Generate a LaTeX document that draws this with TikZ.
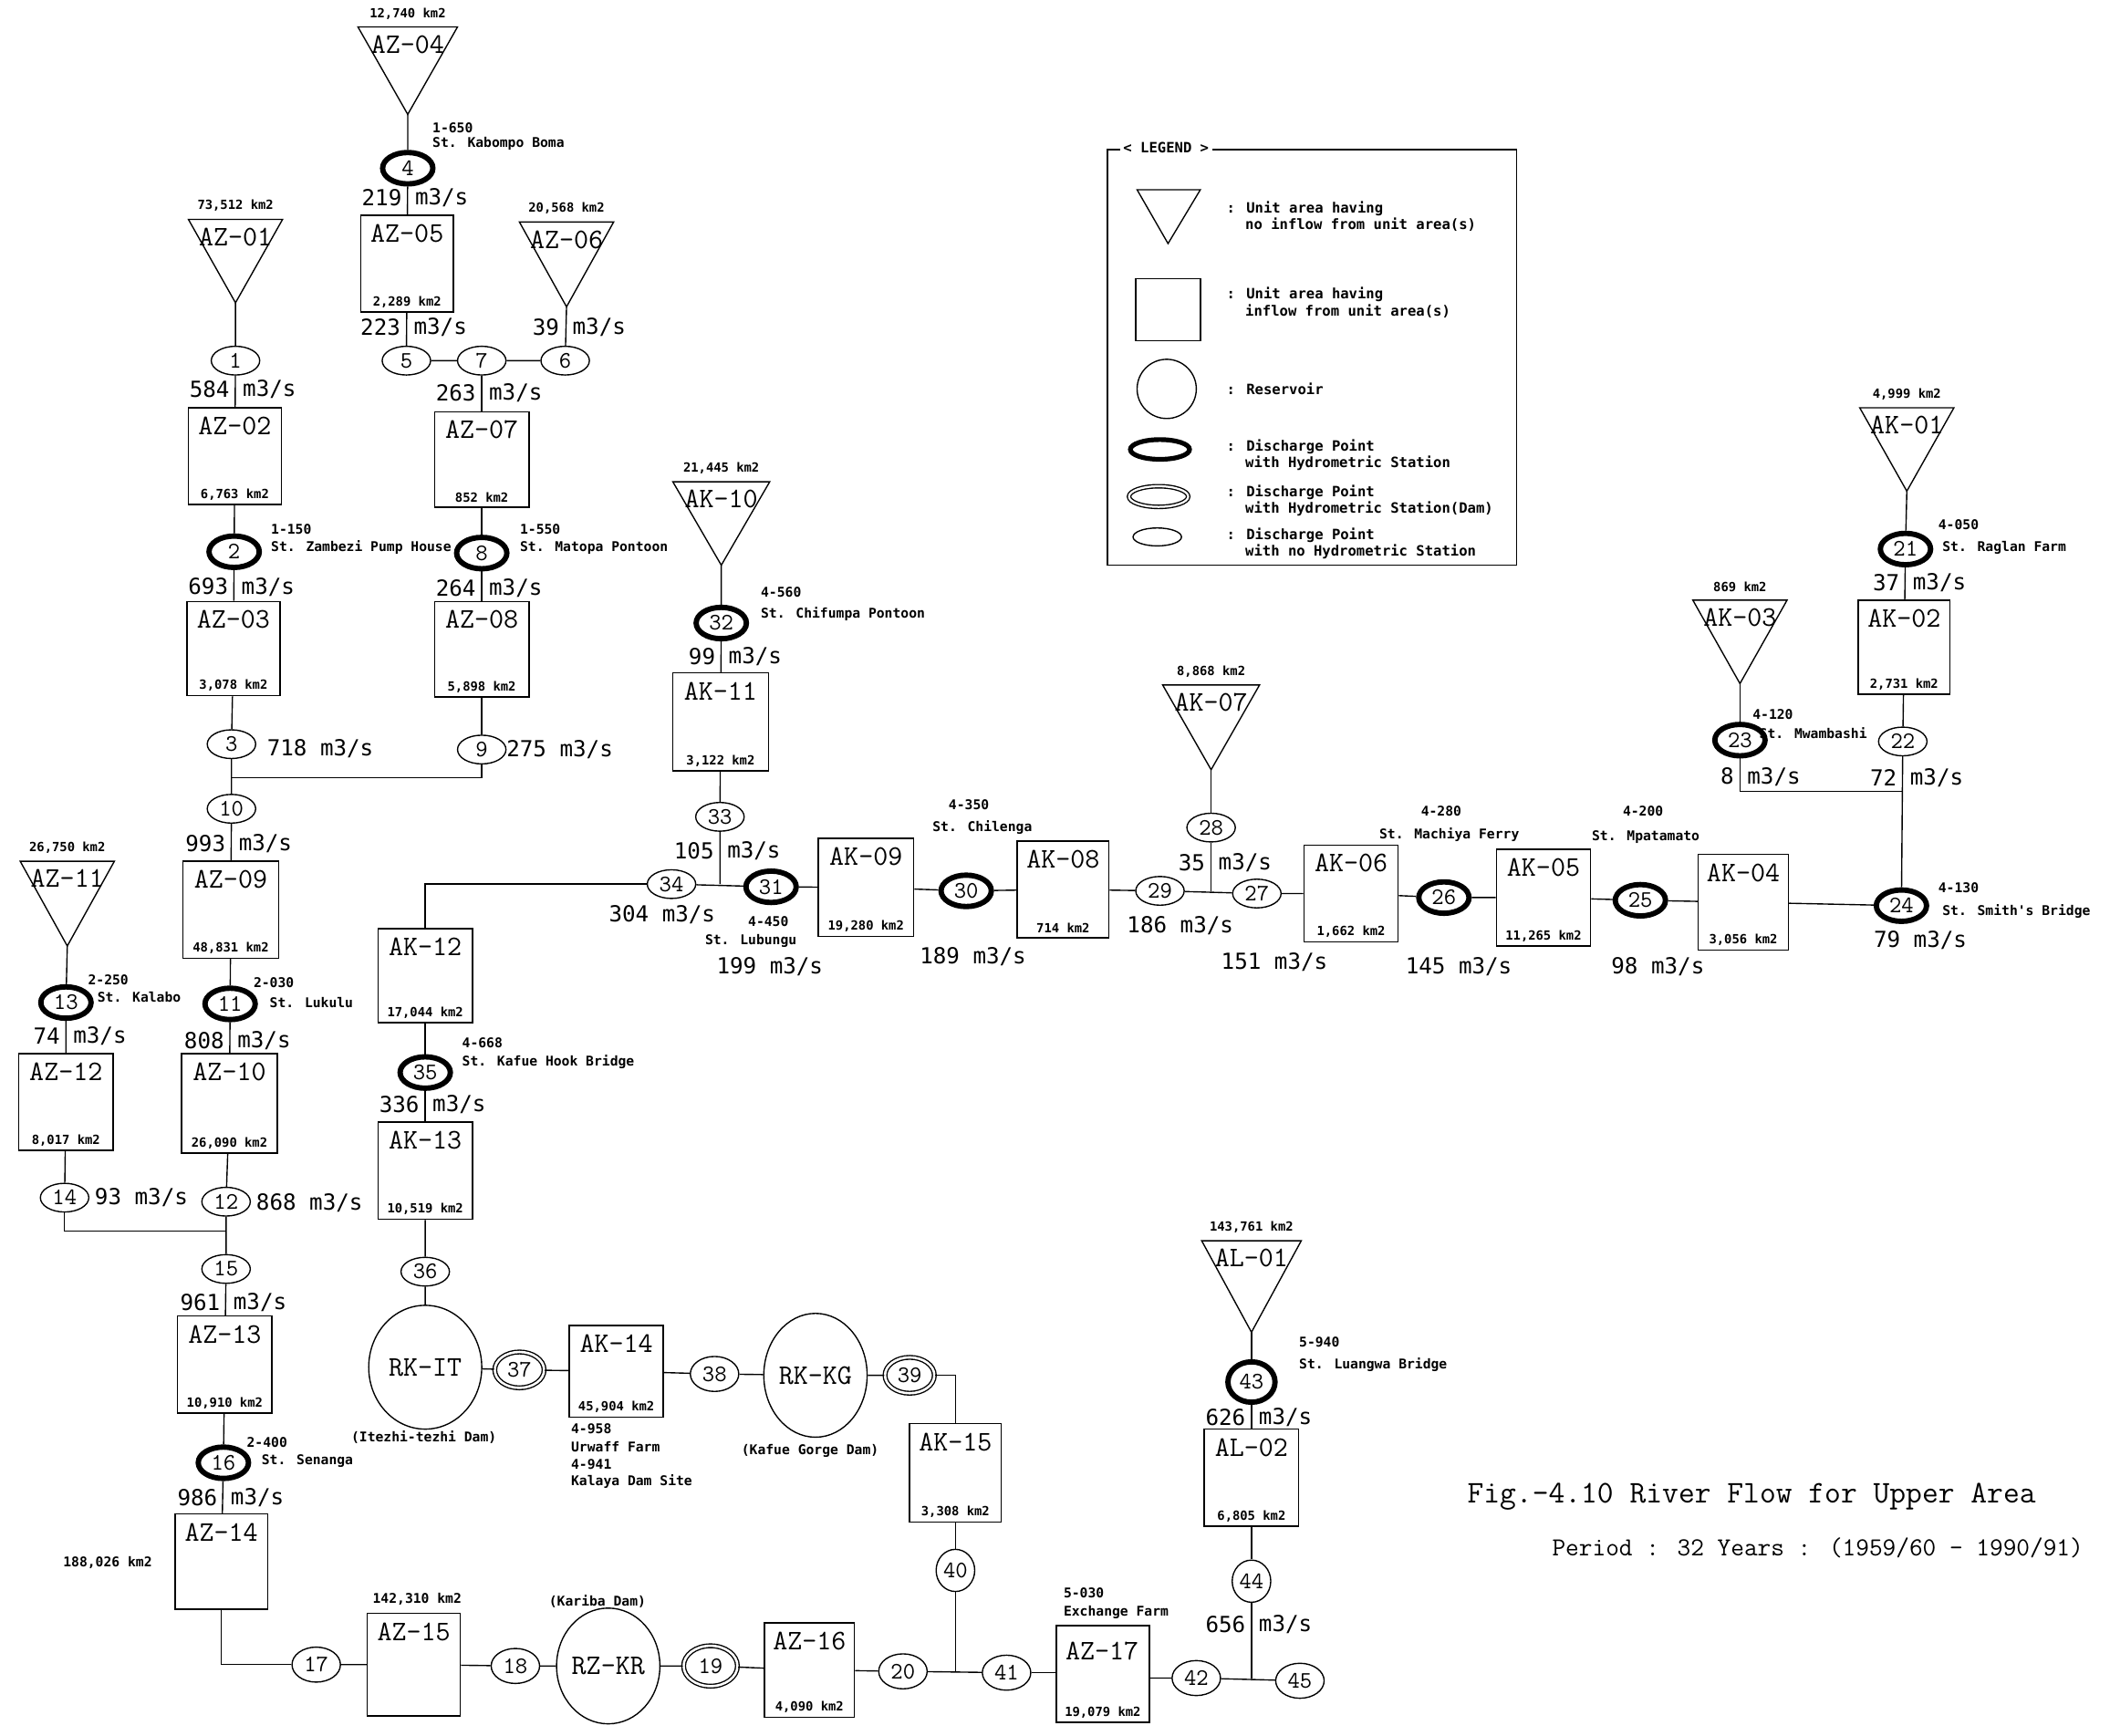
\documentclass[tikz,border=0pt]{standalone}
\usepackage{fontspec}
\usetikzlibrary{shapes.geometric,fit,calc}
\newfontfamily\flowfont{DejaVu Sans Mono}
\newfontfamily\smfont{DejaVu Sans Mono}
\newcommand\ubox[7]{%
  \node[ubox, fit={(#2,#3) (#4,#5)}] (#1) {};
  \node[boxlbl] (#1-l) at ($(#1.north)+(0,14)$) {#6};
  \node[areatxt] (#1-a) at ($(#1.south)+(0,-8)$) {#7};}
\newcommand\utri[7]{%
  \draw[utriangle] (#2-#4,#3) -- (#2+#4,#3) -- (#2,#3+#5) -- cycle;
  \coordinate (#1) at (#2,#3+#5);
  \node[boxlbl] (#1-l) at (#2,#3+13) {#6};
  \node[areatxt] (#1-a) at (#2,#3-10) {#7};}
\newcommand\flow[4]{%
  \node[flowtxt, anchor=east] (#1n) at (#2-4,#3) {#4};
  \node[flowtxt, anchor=west] (#1u) at (#2+5,#3) {m3/s};}
\begin{document}
\begin{tikzpicture}[x=0.3mm,y=-0.3mm,line width=0.8pt,
  dpt/.style={ellipse, draw, line width=0.8pt, minimum width=10.8mm, minimum height=6.4mm, inner sep=0pt, font=\fontsize{15}{15}\ttfamily},
  hs/.style={dpt, line width=3.4pt, minimum width=11.2mm, minimum height=7mm},
  dam/.style={dpt, double, double distance=1.5pt, minimum width=11mm, minimum height=8mm},
  ptb/.style={dpt, minimum width=10.8mm, minimum height=7.8mm},
  ptc/.style={dpt, minimum width=8.6mm, minimum height=9.4mm},
  res/.style={ellipse, draw, line width=0.8pt, inner sep=0pt, font=\fontsize{18}{18}\ttfamily},
  ubox/.style={rectangle, draw, line width=0.9pt, inner sep=0pt},
  utriangle/.style={draw, line width=0.8pt, line join=miter},
  boxlbl/.style={font=\fontsize{18}{18}\ttfamily, inner sep=0pt},
  areatxt/.style={font=\fontsize{8}{8}\smfont\bfseries, inner sep=0pt},
  sttxt/.style={font=\fontsize{8.5}{8.5}\smfont\bfseries, inner sep=0pt, anchor=west},
  stc/.style={sttxt, anchor=center},
  flowtxt/.style={font=\fontsize{14}{14}\flowfont, inner sep=0pt},
  legtxt/.style={font=\fontsize{9}{9}\smfont\bfseries, inner sep=0pt, anchor=west},
  captxt/.style={inner sep=0pt, anchor=west}]
\fill[white] (0,0) rectangle (1568,1290);
\useasboundingbox (0,0) rectangle (1568,1290);

% ---------- column AZ-04 / AZ-07 ----------
\utri{az04}{303}{20}{37}{65}{AZ-04}{12,740 km2}
\node[hs] (n4) at (303,125) {4};
\ubox{az05}{268}{160}{337}{232}{AZ-05}{2,289 km2}
\node[dpt] (n5) at (302,268) {5};
\node[dpt] (n7) at (358,268) {7};
\node[dpt] (n6) at (420,268) {6};
\utri{az06}{421}{165}{35}{63}{AZ-06}{20,568 km2}
\ubox{az07}{323}{306}{393}{377}{AZ-07}{852 km2}
\node[hs] (n8) at (358,411) {8};
\ubox{az08}{323}{447}{393}{518}{AZ-08}{5,898 km2}
\node[dpt] (n9) at (358,557) {9};

% ---------- column AZ-01 ... AZ-14 ----------
\utri{az01}{175}{163}{35}{62}{AZ-01}{73,512 km2}
\node[dpt] (n1) at (175,268) {1};
\ubox{az02}{140}{303}{209}{375}{AZ-02}{6,763 km2}
\node[hs] (n2) at (174,410) {2};
\ubox{az03}{139}{447}{208}{517}{AZ-03}{3,078 km2}
\node[dpt] (n3) at (172,553) {3};
\coordinate (j1) at (172,578);
\node[dpt] (n10) at (172,601) {10};
\ubox{az09}{136}{640}{207}{712}{AZ-09}{48,831 km2}
\node[hs] (n11) at (171,746) {11};
\ubox{az10}{135}{783}{206}{857}{AZ-10}{26,090 km2}
\node[dpt] (n12) at (168,893) {12};
\coordinate (j2) at (168,915);
\node[dpt] (n15) at (168,943) {15};
\ubox{az13}{132}{978}{202}{1050}{AZ-13}{10,910 km2}
\node[hs] (n16) at (166,1087) {16};
\ubox{az14}{130}{1125}{199}{1196}{AZ-14}{}

\utri{az11}{50}{640}{35}{63}{AZ-11}{26,750 km2}
\node[hs] (n13) at (49,745) {13};
\ubox{az12}{14}{783}{84}{855}{AZ-12}{8,017 km2}
\node[dpt] (n14) at (48,890) {14};

% ---------- bottom row ----------
\node[ptb] (n17) at (235,1237) {17};
\ubox{az15}{273}{1199}{342}{1275}{AZ-15}{}
\node[ptb] (n18) at (383,1238) {18};
\node[res, minimum width=21mm, minimum height=25.8mm] (rzkr) at (452,1238) {RZ-KR};
\node[dam, minimum width=12mm, minimum height=9mm] (n19) at (528,1238) {19};
\ubox{az16}{568}{1206}{635}{1276}{AZ-16}{4,090 km2}
\node[ptb] (n20) at (671,1242) {20};
\node[ptb] (n41) at (748,1243) {41};
\ubox{az17}{785}{1208}{854}{1280}{}{19,079 km2}
\node[boxlbl] (az17-t) at (819,1227) {AZ-17};
\node[ptb] (n42) at (889,1247) {42};
\node[ptb] (n45) at (966,1249) {45};

% ---------- AK-15 / AL ----------
\ubox{ak15}{676}{1058}{744}{1131}{AK-15}{3,308 km2}
\node[ptc] (n40) at (710,1167) {40};
\utri{al01}{930}{922}{37}{68}{AL-01}{143,761 km2}
\node[hs, minimum width=10.5mm, minimum height=9mm] (n43) at (930,1027) {43};
\ubox{al02}{895}{1062}{965}{1134}{AL-02}{6,805 km2}
\node[ptc] (n44) at (930,1175) {44};

% ---------- reservoir row ----------
\node[res, minimum width=25.2mm, minimum height=27.6mm] (rkit) at (316,1016) {RK-IT};
\node[dam] (n37) at (386,1018) {37};
\ubox{ak14}{423}{985}{493}{1053}{AK-14}{45,904 km2}
\node[ptb] (n38) at (531,1021) {38};
\node[res, minimum width=22.8mm, minimum height=27.6mm] (rkkg) at (606,1022) {RK-KG};
\node[dam] (n39) at (676,1022) {39};

% ---------- AK-12 / AK-13 ----------
\ubox{ak12}{281}{690}{351}{760}{AK-12}{17,044 km2}
\node[hs] (n35) at (316,797) {35};
\ubox{ak13}{281}{834}{351}{906}{AK-13}{10,519 km2}
\node[dpt] (n36) at (316,945) {36};

% ---------- AK-10 / AK-11 ----------
\utri{ak10}{536}{358}{36}{62}{AK-10}{21,445 km2}
\node[hs] (n32) at (536,463) {32};
\ubox{ak11}{500}{500}{571}{573}{AK-11}{3,122 km2}
\node[dpt] (n33) at (535,607) {33};
\node[dpt] (n34) at (499,657) {34};
\node[hs] (n31) at (573,659) {31};

% ---------- middle row ----------
\ubox{ak09}{608}{623}{679}{696}{AK-09}{19,280 km2}
\node[hs] (n30) at (718,662) {30};
\ubox{ak08}{756}{625}{824}{697}{AK-08}{714 km2}
\node[dpt] (n29) at (862,662) {29};
\node[dpt] (n27) at (934,664) {27};
\utri{ak07}{900}{509}{36}{63}{AK-07}{8,868 km2}
\node[dpt] (n28) at (900,615) {28};
\ubox{ak06}{969}{628}{1039}{700}{AK-06}{1,662 km2}
\node[hs] (n26) at (1073,667) {26};
\ubox{ak05}{1112}{631}{1182}{703}{AK-05}{11,265 km2}
\node[hs] (n25) at (1219,669) {25};
\ubox{ak04}{1262}{635}{1329}{706}{AK-04}{3,056 km2}
\node[hs] (n24) at (1413,673) {24};

% ---------- right ----------
\utri{ak01}{1417}{303}{35}{62}{AK-01}{4,999 km2}
\node[hs] (n21) at (1416,408) {21};
\ubox{ak02}{1381}{446}{1449}{516}{AK-02}{2,731 km2}
\node[dpt] (n22) at (1414,551) {22};
\coordinate (j3) at (1414,588);
\utri{ak03}{1293}{446}{35}{62}{AK-03}{869 km2}
\node[hs] (n23) at (1293,550) {23};

% ---------- connectors ----------
\draw (az04) -- (n4) -- (az05) -- (n5) -- (n7) -- (n6) -- (az06);
\draw (n7) -- (az07) -- (n8) -- (az08) -- (n9);
\draw (az01) -- (n1) -- (az02) -- (n2) -- (az03) -- (n3) -- (n10) -- (az09) -- (n11) -- (az10) -- (n12) -- (n15) -- (az13) -- (n16) -- (az14);
\draw (n9) |- (j1);
\draw (az11) -- (n13) -- (az12) -- (n14);
\draw (n14) |- (j2);
\draw (az14) |- (n17);
\draw (n17) -- (az15) -- (n18) -- (rzkr) -- (n19) -- (az16) -- (n20) -- (n41);
\draw (n41) -- (n41 -| az17.west);
\draw (az17.east |- n42) -- (n42) -- (n45);
\draw (n40) -- (n40 |- n20);
\draw (n44) -- (n44 |- n42);
\draw (n39) -| (ak15);
\draw (ak15) -- (n40);
\draw (al01) -- (n43) -- (al02) -- (n44);
\draw (ak13) -- (n36) -- (rkit) -- (n37) -- (ak14) -- (n38) -- (rkkg) -- (n39);
\draw (ak12) -- (n35) -- (ak13);
\draw (ak12) |- (n34);
\draw (ak10) -- (n32) -- (ak11) -- (n33) -- (n33 |- n34);
\draw (n34) -- (n31);
\draw (n31) -- (ak09) -- (n30) -- (ak08) -- (n29) -- (n27) -- (ak06) -- (n26) -- (ak05) -- (n25) -- (ak04) -- (n24);
\draw (ak07) -- (n28) -- (n28 |- n29);
\draw (ak01) -- (n21) -- (ak02) -- (n22) -- (n24);
\draw (ak03) -- (n23);
\draw (n23) |- (j3);

% ---------- flows ----------
\flow{f219}{303}{147}{219}
\flow{f223}{302}{243}{223}
\flow{f39}{420}{243}{39}
\flow{f263}{358}{292}{263}
\flow{f264}{358}{437}{264}
\flow{f584}{175}{289}{584}
\flow{f693}{174}{436}{693}
\flow{f993}{172}{627}{993}
\flow{f808}{171}{773}{808}
\flow{f74}{49}{770}{74}
\flow{f961}{168}{968}{961}
\flow{f986}{166}{1113}{986}
\flow{f336}{316}{821}{336}
\flow{f99}{536}{488}{99}
\flow{f105}{535}{632}{105}
\flow{f35}{900}{641}{35}
\flow{f37}{1416}{433}{37}
\flow{f72}{1414}{578}{72}
\flow{f8}{1293}{577}{8}
\flow{f626}{930}{1053}{626}
\flow{f656}{930}{1207}{656}
\node[flowtxt, anchor=west] (f718) at (198,556) {718 m3/s};
\node[flowtxt, anchor=west] (f275) at (376,557) {275 m3/s};
\node[flowtxt, anchor=west] (f93) at (70,890) {93 m3/s};
\node[flowtxt, anchor=west] (f868) at (190,894) {868 m3/s};
\node[flowtxt] (f304) at (492,680) {304 m3/s};
\node[flowtxt] (f199) at (572,718) {199 m3/s};
\node[flowtxt] (f189) at (723,711) {189 m3/s};
\node[flowtxt] (f186) at (877,688) {186 m3/s};
\node[flowtxt] (f151) at (947,715) {151 m3/s};
\node[flowtxt] (f145) at (1084,718) {145 m3/s};
\node[flowtxt] (f98) at (1232,718) {98 m3/s};
\node[flowtxt] (f79) at (1427,699) {79 m3/s};

% ---------- station labels ----------
\node[sttxt] (s4a) at (321,95) {1-650};
\node[sttxt] (s4b) at (321,107) {St. Kabompo Boma};
\node[sttxt] (s2a) at (201,393) {1-150};
\node[sttxt] (s2b) at (201,407) {St. Zambezi Pump House};
\node[sttxt] (s8a) at (386,393) {1-550};
\node[sttxt] (s8b) at (386,407) {St. Matopa Pontoon};
\node[sttxt] (s32a) at (565,440) {4-560};
\node[sttxt] (s32b) at (565,456) {St. Chifumpa Pontoon};
\node[sttxt] (s13a) at (65,728) {2-250};
\node[sttxt] (s13b) at (72,741) {St. Kalabo};
\node[sttxt] (s11a) at (188,730) {2-030};
\node[sttxt] (s11b) at (200,745) {St. Lukulu};
\node[sttxt] (s35a) at (343,775) {4-668};
\node[sttxt] (s35b) at (343,789) {St. Kafue Hook Bridge};
\node[stc] (s31a) at (571,685) {4-450};
\node[stc] (s31b) at (558,699) {St. Lubungu};
\node[stc] (s30a) at (720,598) {4-350};
\node[stc] (s30b) at (730,615) {St. Chilenga};
\node[stc] (s26a) at (1071,603) {4-280};
\node[stc] (s26b) at (1077,620) {St. Machiya Ferry};
\node[stc] (s25a) at (1221,603) {4-200};
\node[stc] (s25b) at (1223,622) {St. Mpatamato};
\node[sttxt] (s24a) at (1440,660) {4-130};
\node[sttxt] (s24b) at (1443,677) {St. Smith's Bridge};
\node[sttxt] (s21a) at (1440,390) {4-050};
\node[sttxt] (s21b) at (1443,407) {St. Raglan Farm};
\node[sttxt] (s23a) at (1302,531) {4-120};
\node[sttxt] (s23b) at (1307,545) {St. Mwambashi};
\node[sttxt] (s16a) at (183,1072) {2-400};
\node[sttxt] (s16b) at (194,1086) {St. Senanga};
\node[sttxt] (s43a) at (965,997) {5-940};
\node[sttxt] (s43b) at (965,1014) {St. Luangwa Bridge};
\node[sttxt] (s41a) at (790,1184) {5-030};
\node[sttxt] (s41b) at (790,1198) {Exchange Farm};
\node[sttxt] (s14a) at (424,1062) {4-958};
\node[sttxt] (s14b) at (424,1075) {Urwaff Farm};
\node[sttxt] (s14c) at (424,1088) {4-941};
\node[sttxt] (s14d) at (424,1101) {Kalaya Dam Site};
\node[stc] (dit) at (315,1068) {(Itezhi-tezhi Dam)};
\node[stc] (dkg) at (602,1078) {(Kafue Gorge Dam)};
\node[stc] (dkr) at (444,1190) {(Kariba Dam)};
\node[stc] (a15) at (310,1188) {142,310 km2};
\node[stc] (a14) at (80,1161) {188,026 km2};

% ---------- legend ----------
\draw[line width=0.9pt] (823,111) rectangle (1127,420);
\node[legtxt, fill=white, inner xsep=2pt] (legt) at (832,110) {< LEGEND >};
\draw[utriangle] (845,141) -- (892,141) -- (868,181) -- cycle;
\draw[line width=0.8pt] (844,207) rectangle (892,253);
\draw[line width=0.8pt] (867,289) circle [radius=6.6mm];
\draw[line width=3pt] (862,334) ellipse [x radius=6.6mm, y radius=2.2mm];
\draw[line width=0.8pt, double, double distance=1.3pt] (861,369) ellipse [x radius=6.6mm, y radius=2.3mm];
\draw[line width=0.8pt] (860,399) ellipse [x radius=5.4mm, y radius=2mm];
\node[legtxt] (l1a) at (911,155) {: Unit area having};
\node[legtxt] (l1b) at (925,167) {no inflow from unit area(s)};
\node[legtxt] (l2a) at (911,219) {: Unit area having};
\node[legtxt] (l2b) at (925,231) {inflow from unit area(s)};
\node[legtxt] (l3a) at (911,289) {: Reservoir};
\node[legtxt] (l4a) at (911,332) {: Discharge Point};
\node[legtxt] (l4b) at (925,344) {with Hydrometric Station};
\node[legtxt] (l5a) at (911,366) {: Discharge Point};
\node[legtxt] (l5b) at (925,378) {with Hydrometric Station(Dam)};
\node[legtxt] (l6a) at (911,398) {: Discharge Point};
\node[legtxt] (l6b) at (925,410) {with no Hydrometric Station};

% ---------- caption ----------
\node[captxt, font=\fontsize{20}{20}\ttfamily] (cap1) at (1090,1112) {Fig.-4.10 River Flow for Upper Area};
\node[captxt, font=\fontsize{16.5}{16.5}\ttfamily] (cap2) at (1153,1150) {Period : 32 Years : (1959/60 - 1990/91)};
\end{tikzpicture}
\end{document}
